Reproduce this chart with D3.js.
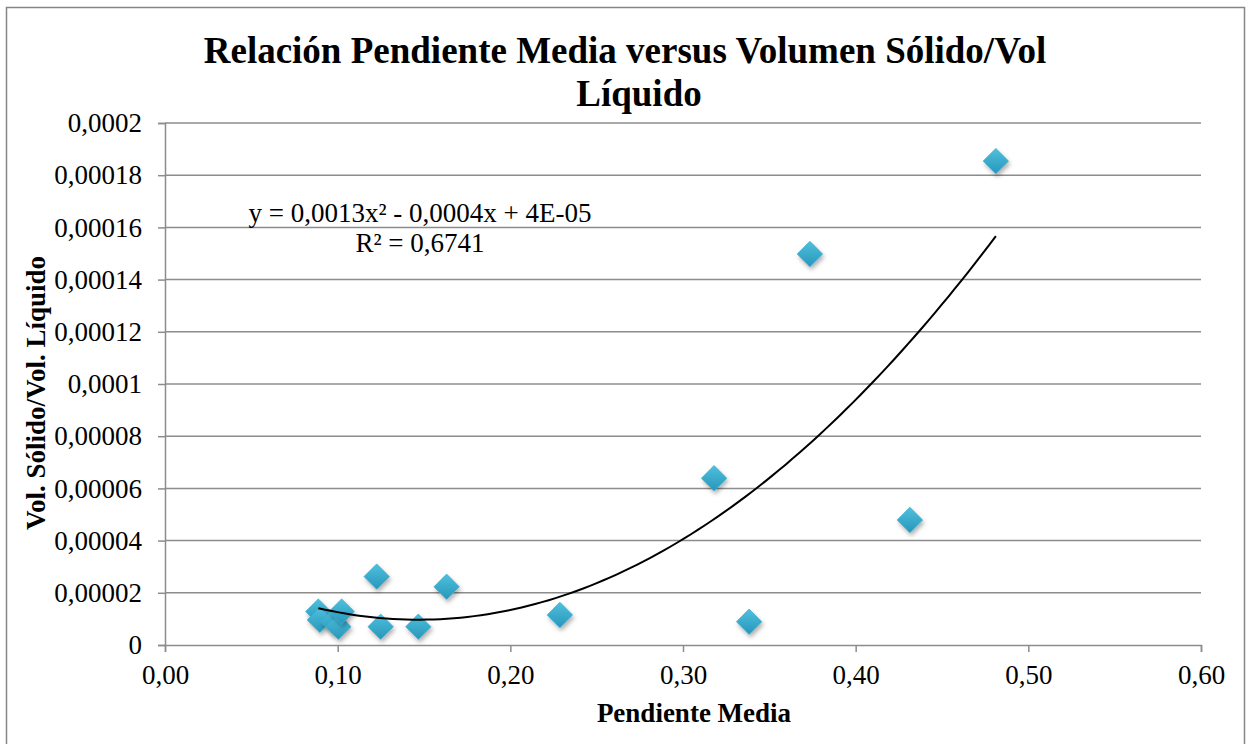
<!DOCTYPE html>
<html>
<head>
<meta charset="utf-8">
<script src="https://cdn.jsdelivr.net/npm/d3@7"></script>
<style>
  body { margin: 0; background: #fff; }
  svg { display: block; }
</style>
</head>
<body>
<svg id="chart"></svg>
<script>
const width = 1246;
const height = 744;

// values
const pendiente = [0.0888, 0.0897, 0.0975, 0.1004, 0.1023, 0.1226, 0.1249, 0.1467, 0.1631, 0.2287, 0.3180, 0.3383, 0.3735, 0.4314, 0.4812];
const volRatio  = [0.0000128, 0.0000096, 0.0000089, 0.0000070, 0.0000128, 0.0000262, 0.0000070, 0.0000070, 0.0000223, 0.0000115, 0.0000639, 0.0000089, 0.0001498, 0.0000479, 0.0001854];

const xTicks = [0, 0.1, 0.2, 0.3, 0.4, 0.5, 0.6];
const yTicks = [0, 0.00002, 0.00004, 0.00006, 0.00008, 0.0001, 0.00012, 0.00014, 0.00016, 0.00018, 0.0002];
const yTickLabels = ["0", "0,00002", "0,00004", "0,00006", "0,00008", "0,0001", "0,00012", "0,00014", "0,00016", "0,00018", "0,0002"];

const titleLines = ["Relación Pendiente Media versus Volumen Sólido/Vol", "Líquido"];
const xTitle = "Pendiente Media";
const yTitle = "Vol. Sólido/Vol. Líquido";
const eqLines = ["y = 0,0013x² - 0,0004x + 4E-05", "R² = 0,6741"];

const margin = { left: 165, right: 45, top: 123, bottom: 99 };
const font = "'Liberation Serif', 'Times New Roman', serif";

const svg = d3.select('#chart')
  .attr('width', width)
  .attr('height', height);

const defs = svg.append('defs');
const grad = defs.append('linearGradient')
  .attr('id', 'mk')
  .attr('x1', 0).attr('y1', 0).attr('x2', 0).attr('y2', 1);
grad.append('stop').attr('offset', '0%').attr('stop-color', '#4fc0dc');
grad.append('stop').attr('offset', '100%').attr('stop-color', '#2796bb');

defs.append('filter')
  .attr('id', 'shadow')
  .attr('x', '-50%').attr('y', '-50%').attr('width', '200%').attr('height', '200%')
  .append('feDropShadow')
    .attr('dx', 1.5).attr('dy', 3)
    .attr('stdDeviation', 2)
    .attr('flood-color', '#000')
    .attr('flood-opacity', 0.3);

// outer frame
svg.append('rect')
  .attr('x', 6.5).attr('y', 7.5)
  .attr('width', 1238).attr('height', 760)
  .attr('fill', 'none')
  .attr('stroke', '#868686')
  .attr('stroke-width', 1.5);

const x = d3.scaleLinear()
  .domain([0, 0.6])
  .range([margin.left, width - margin.right]);

const y = d3.scaleLinear()
  .domain([0, 0.0002])
  .range([height - margin.bottom, margin.top]);

// gridlines
svg.append('g')
  .selectAll('line')
  .data(yTicks.slice(1))
  .enter().append('line')
    .attr('x1', x(0)).attr('x2', x(0.6))
    .attr('y1', d => y(d)).attr('y2', d => y(d))
    .attr('stroke', '#8c8c8c')
    .attr('stroke-width', 1.5);

// axes
const xAxis = svg.append('g')
  .attr('transform', `translate(0,${y(0)})`)
  .call(d3.axisBottom(x)
    .tickValues(xTicks)
    .tickSize(7)
    .tickPadding(13)
    .tickFormat(d => d3.format('.2f')(d).replace('.', ',')));

const yAxis = svg.append('g')
  .attr('transform', `translate(${x(0)},0)`)
  .call(d3.axisLeft(y)
    .tickValues(yTicks)
    .tickSize(7)
    .tickPadding(16)
    .tickFormat((d, i) => yTickLabels[i]));

[xAxis, yAxis].forEach(ax => {
  ax.selectAll('path, line')
    .attr('stroke', '#8c8c8c')
    .attr('stroke-width', 1.5);
  ax.selectAll('text')
    .attr('font-family', font)
    .attr('font-size', 27)
    .attr('fill', '#000');
});

// quadratic least squares fit, like the spreadsheet trendline
function polyFit(xs, ys) {
  const n = xs.length;
  let s = [0, 0, 0, 0, 0], t = [0, 0, 0];
  for (let i = 0; i < n; i++) {
    for (let k = 0; k < 5; k++) s[k] += Math.pow(xs[i], k);
    for (let k = 0; k < 3; k++) t[k] += ys[i] * Math.pow(xs[i], k);
  }
  const A = [[s[0], s[1], s[2], t[0]], [s[1], s[2], s[3], t[1]], [s[2], s[3], s[4], t[2]]];
  for (let c = 0; c < 3; c++) {
    for (let r = c + 1; r < 3; r++) {
      const f = A[r][c] / A[c][c];
      for (let k = c; k < 4; k++) A[r][k] -= f * A[c][k];
    }
  }
  const co = [0, 0, 0];
  for (let r = 2; r >= 0; r--) {
    let v = A[r][3];
    for (let k = r + 1; k < 3; k++) v -= A[r][k] * co[k];
    co[r] = v / A[r][r];
  }
  return co;
}

const coef = polyFit(pendiente, volRatio);
const xMin = d3.min(pendiente), xMax = d3.max(pendiente);
const trend = d3.range(0, 101).map(i => {
  const xv = xMin + (xMax - xMin) * i / 100;
  return [xv, coef[0] + coef[1] * xv + coef[2] * xv * xv];
});

// markers
const points = pendiente.map((d, i) => ({ x: d, y: volRatio[i] }));
svg.append('g')
  .selectAll('path')
  .data(points)
  .enter().append('path')
    .attr('d', d3.symbol(d3.symbolDiamond2, 410))
    .attr('transform', d => `translate(${x(d.x)},${y(d.y)})`)
    .attr('fill', 'url(#mk)')
    .attr('stroke', '#3aaed0')
    .attr('stroke-width', 0.8)
    .attr('stroke-linejoin', 'round')
    .attr('filter', 'url(#shadow)');

svg.append('path')
  .datum(trend)
  .attr('fill', 'none')
  .attr('stroke', '#000')
  .attr('stroke-width', 2)
  .attr('d', d3.line().x(d => x(d[0])).y(d => y(d[1])));

// trendline label
svg.append('g')
  .selectAll('text')
  .data(eqLines)
  .enter().append('text')
    .attr('x', 420)
    .attr('y', (d, i) => 222 + i * 30)
    .attr('text-anchor', 'middle')
    .attr('font-family', font)
    .attr('font-size', 27)
    .text(d => d);

// title
svg.append('g')
  .selectAll('text')
  .data(titleLines)
  .enter().append('text')
    .attr('x', (d, i) => i === 0 ? 625 : 639)
    .attr('y', (d, i) => 63 + i * 43)
    .attr('text-anchor', 'middle')
    .attr('font-family', font)
    .attr('font-weight', 'bold')
    .attr('font-size', 37)
    .text(d => d);

svg.append('text')
  .attr('x', 694)
  .attr('y', 722)
  .attr('text-anchor', 'middle')
  .attr('font-family', font)
  .attr('font-weight', 'bold')
  .attr('font-size', 27)
  .text(xTitle);

svg.append('text')
  .attr('transform', 'translate(45,393) rotate(-90)')
  .attr('text-anchor', 'middle')
  .attr('font-family', font)
  .attr('font-weight', 'bold')
  .attr('font-size', 27)
  .text(yTitle);
</script>
</body>
</html>
